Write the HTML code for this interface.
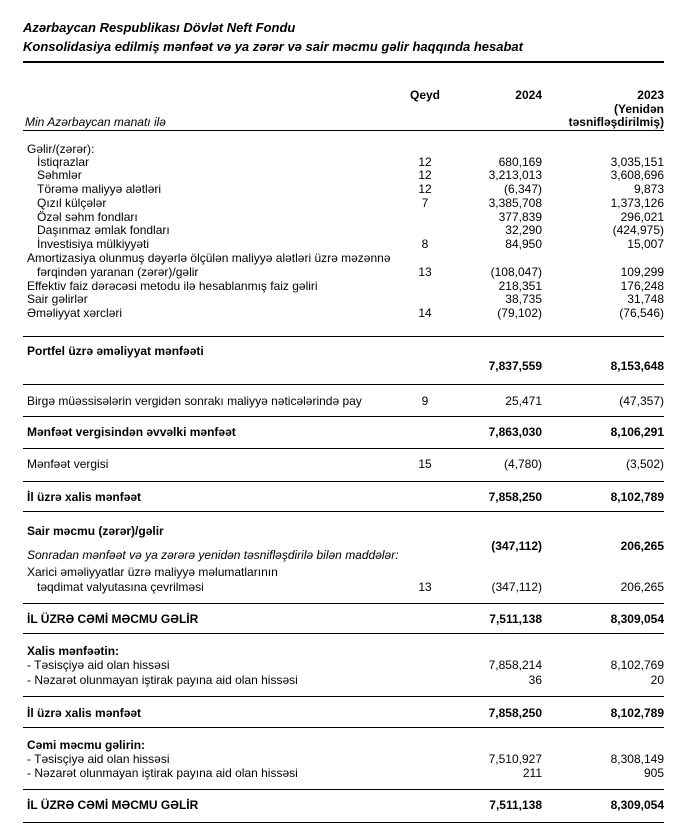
<!DOCTYPE html>
<html><head><meta charset="utf-8"><style>
body{margin:0;width:683px;height:833px;background:#fff;font-family:"Liberation Sans",Arial,sans-serif;color:#000;position:relative;overflow:hidden}
.t{position:absolute;font-size:12px;line-height:13px;white-space:nowrap}
.b{font-weight:bold}
.i{font-style:italic}
.l{position:absolute;left:23px;width:641px;height:1px;background:#000}
.q{position:absolute;width:30px;left:410px;text-align:center;font-size:12px;line-height:13px}
.a{position:absolute;right:141px;text-align:right;font-size:12px;line-height:13px;white-space:nowrap}
.c{position:absolute;right:19px;text-align:right;font-size:12px;line-height:13px;white-space:nowrap}
</style></head><body>
<div class="t b i" style="left:23px;top:21px;font-size:13px">Azərbaycan Respublikası Dövlət Neft Fondu</div>
<div class="t b i" style="left:23px;top:40px;font-size:13px">Konsolidasiya edilmiş mənfəət və ya zərər və sair məcmu gəlir haqqında hesabat</div>
<div class="l" style="top:61px;height:2px"></div>
<div class="q b" style="top:89px">Qeyd</div>
<div class="a b" style="top:89px">2024</div>
<div class="c b" style="top:89px">2023</div>
<div class="c b" style="top:103px">(Yenidən</div>
<div class="c b" style="top:116px">təsnifləşdirilmiş)</div>
<div class="t i" style="left:25px;top:116px">Min Azərbaycan manatı ilə</div>
<div class="l" style="top:130px"></div>

<div class="t" style="left:27px;top:143px">Gəlir/(zərər):</div>
<div class="t" style="left:37px;top:156px">İstiqrazlar</div><div class="q" style="top:156px">12</div><div class="a" style="top:156px">680,169</div><div class="c" style="top:156px">3,035,151</div>
<div class="t" style="left:37px;top:169px">Səhmlər</div><div class="q" style="top:169px">12</div><div class="a" style="top:169px">3,213,013</div><div class="c" style="top:169px">3,608,696</div>
<div class="t" style="left:37px;top:183px">Törəmə maliyyə alətləri</div><div class="q" style="top:183px">12</div><div class="a" style="top:183px">(6,347)</div><div class="c" style="top:183px">9,873</div>
<div class="t" style="left:37px;top:197px">Qızıl külçələr</div><div class="q" style="top:197px">7</div><div class="a" style="top:197px">3,385,708</div><div class="c" style="top:197px">1,373,126</div>
<div class="t" style="left:37px;top:211px">Özəl səhm fondları</div><div class="a" style="top:211px">377,839</div><div class="c" style="top:211px">296,021</div>
<div class="t" style="left:37px;top:224px">Daşınmaz əmlak fondları</div><div class="a" style="top:224px">32,290</div><div class="c" style="top:224px">(424,975)</div>
<div class="t" style="left:37px;top:238px">İnvestisiya mülkiyyəti</div><div class="q" style="top:238px">8</div><div class="a" style="top:238px">84,950</div><div class="c" style="top:238px">15,007</div>
<div class="t" style="left:27px;top:252px">Amortizasiya olunmuş dəyərlə ölçülən maliyyə alətləri üzrə məzənnə</div>
<div class="t" style="left:37px;top:266px">fərqindən yaranan (zərər)/gəlir</div><div class="q" style="top:266px">13</div><div class="a" style="top:266px">(108,047)</div><div class="c" style="top:266px">109,299</div>
<div class="t" style="left:27px;top:280px">Effektiv faiz dərəcəsi metodu ilə hesablanmış faiz gəliri</div><div class="a" style="top:280px">218,351</div><div class="c" style="top:280px">176,248</div>
<div class="t" style="left:27px;top:293px">Sair gəlirlər</div><div class="a" style="top:293px">38,735</div><div class="c" style="top:293px">31,748</div>
<div class="t" style="left:27px;top:307px">Əməliyyat xərcləri</div><div class="q" style="top:307px">14</div><div class="a" style="top:307px">(79,102)</div><div class="c" style="top:307px">(76,546)</div>
<div class="l" style="top:336px"></div>

<div class="t b" style="left:27px;top:345px">Portfel üzrə əməliyyat mənfəəti</div>
<div class="a b" style="top:360px">7,837,559</div><div class="c b" style="top:360px">8,153,648</div>
<div class="l" style="top:384px"></div>
<div class="t" style="left:27px;top:395px">Birgə müəssisələrin vergidən sonrakı maliyyə nəticələrində pay</div><div class="q" style="top:395px">9</div><div class="a" style="top:395px">25,471</div><div class="c" style="top:395px">(47,357)</div>
<div class="l" style="top:416px"></div>
<div class="t b" style="left:27px;top:426px">Mənfəət vergisindən əvvəlki mənfəət</div><div class="a b" style="top:426px">7,863,030</div><div class="c b" style="top:426px">8,106,291</div>
<div class="l" style="top:448px"></div>
<div class="t" style="left:27px;top:458px">Mənfəət vergisi</div><div class="q" style="top:458px">15</div><div class="a" style="top:458px">(4,780)</div><div class="c" style="top:458px">(3,502)</div>
<div class="l" style="top:481px"></div>
<div class="t b" style="left:27px;top:491px">İl üzrə xalis mənfəət</div><div class="a b" style="top:491px">7,858,250</div><div class="c b" style="top:491px">8,102,789</div>
<div class="l" style="top:511px"></div>

<div class="t b" style="left:27px;top:525px">Sair məcmu (zərər)/gəlir</div>
<div class="a b" style="top:540px">(347,112)</div><div class="c b" style="top:540px">206,265</div>
<div class="t i" style="left:27px;top:549px">Sonradan mənfəət və ya zərərə yenidən təsnifləşdirilə bilən maddələr:</div>
<div class="t" style="left:27px;top:566px">Xarici əməliyyatlar üzrə maliyyə məlumatlarının</div>
<div class="t" style="left:37px;top:581px">təqdimat valyutasına çevrilməsi</div><div class="q" style="top:581px">13</div><div class="a" style="top:581px">(347,112)</div><div class="c" style="top:581px">206,265</div>
<div class="l" style="top:603px"></div>
<div class="t b" style="left:27px;top:613px">İL ÜZRƏ CƏMİ MƏCMU GƏLİR</div><div class="a b" style="top:613px">7,511,138</div><div class="c b" style="top:613px">8,309,054</div>
<div class="l" style="top:633px"></div>

<div class="t b" style="left:27px;top:645px">Xalis mənfəətin:</div>
<div class="t" style="left:27px;top:659px">- Təsisçiyə aid olan hissəsi</div><div class="a" style="top:659px">7,858,214</div><div class="c" style="top:659px">8,102,769</div>
<div class="t" style="left:27px;top:674px">- Nəzarət olunmayan iştirak payına aid olan hissəsi</div><div class="a" style="top:674px">36</div><div class="c" style="top:674px">20</div>
<div class="l" style="top:696px"></div>
<div class="t b" style="left:27px;top:707px">İl üzrə xalis mənfəət</div><div class="a b" style="top:707px">7,858,250</div><div class="c b" style="top:707px">8,102,789</div>
<div class="l" style="top:727px"></div>
<div class="t b" style="left:27px;top:739px">Cəmi məcmu gəlirin:</div>
<div class="t" style="left:27px;top:753px">- Təsisçiyə aid olan hissəsi</div><div class="a" style="top:753px">7,510,927</div><div class="c" style="top:753px">8,308,149</div>
<div class="t" style="left:27px;top:767px">- Nəzarət olunmayan iştirak payına aid olan hissəsi</div><div class="a" style="top:767px">211</div><div class="c" style="top:767px">905</div>
<div class="l" style="top:789px"></div>
<div class="t b" style="left:27px;top:799px">İL ÜZRƏ CƏMİ MƏCMU GƏLİR</div><div class="a b" style="top:799px">7,511,138</div><div class="c b" style="top:799px">8,309,054</div>
<div class="l" style="top:822px"></div>
</body></html>
